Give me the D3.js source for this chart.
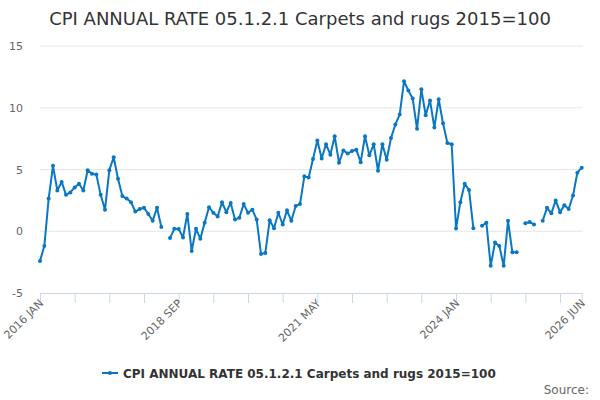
<!DOCTYPE html>
<html><head><meta charset="utf-8">
<script src="https://cdn.jsdelivr.net/npm/d3@7"></script>
<style>body{margin:0;background:#fff}svg{display:block;font-family:"DejaVu Sans",sans-serif}</style>
</head><body><svg id="c" width="600" height="400"></svg>
<script>
const title = "CPI ANNUAL RATE 05.1.2.1 Carpets and rugs 2015=100";
const seriesName = "CPI ANNUAL RATE 05.1.2.1 Carpets and rugs 2015=100";
const monthNames = ["JAN","FEB","MAR","APR","MAY","JUN","JUL","AUG","SEP","OCT","NOV","DEC"];
const startYear = 2016;
const values = [
 -2.4,-1.2,2.65,5.3,3.3,4.0,2.95,3.15,3.55,3.85,3.3,4.95,
 4.65,4.6,2.95,1.75,4.95,6.0,4.25,2.85,2.65,2.35,1.6,1.8,
 1.9,1.4,0.85,1.9,0.35,null,-0.55,0.2,0.18,-0.5,1.4,-1.6,
 0.2,-0.6,0.7,1.95,1.5,1.2,2.35,1.55,2.3,0.95,1.1,2.2,
 1.5,1.75,0.95,-1.85,-1.75,0.9,0.25,1.5,0.55,1.7,0.85,2.05,
 2.2,4.45,4.35,5.85,7.35,5.9,7.05,6.2,7.7,5.55,6.55,6.3,
 6.5,6.6,5.6,7.7,6.15,7.05,4.9,7.05,5.8,7.55,8.65,9.45,
 12.15,11.4,10.75,8.3,11.5,9.4,10.6,8.4,10.7,8.75,7.15,7.05,
 0.22,2.35,3.85,3.35,0.25,null,0.45,0.7,-2.8,-0.9,-1.2,-2.8,
 0.85,-1.7,-1.7,null,0.65,0.75,0.55,null,0.85,1.9,1.45,2.5,
 1.55,2.1,1.8,2.9,4.75,5.15
];
const categories = values.map((v,i)=> (startYear+Math.floor(i/12)) + " " + monthNames[i%12]);
const yTicks = [-5,0,5,10,15];
const tickLabels = ["2016 JAN","2018 SEP","2021 MAY","2024 JAN","2026 JUN"];

(function(){
const svg = d3.select("#c");
const pL = 40, pR = 581.7, pT = 46.1, pB = 293;
const x = d3.scalePoint().domain(categories).range([pL, pR]);
const y = d3.scaleLinear().domain([-5,15]).range([pB, pT]);
const color = "#0a77c2";

svg.append("text").attr("x",300).attr("y",25).attr("text-anchor","middle")
  .attr("font-size",18).attr("fill","#333").text(title);

svg.append("g").selectAll("line").data(yTicks.filter(d=>d!==-5)).join("line")
  .attr("x1",pL).attr("x2",pR+1).attr("y1",d=>y(d)).attr("y2",d=>y(d))
  .attr("stroke","#e6e6e6").attr("stroke-width",1);
svg.append("g").selectAll("text").data(yTicks).join("text")
  .attr("x",23).attr("y",d=>y(d)+4).attr("text-anchor","end")
  .attr("font-size",11).attr("fill","#666").text(d=>d);

const tickIdx = d3.range(0, categories.length, 8).concat([categories.length-1]);
const xAxis = d3.axisBottom(x).tickValues(tickIdx.map(i=>categories[i])).tickSize(10).tickFormat("");
const gx = svg.append("g").attr("transform",`translate(0,${pB})`).call(xAxis);
gx.select(".domain").attr("stroke","#ccd6eb").attr("d",`M${pL},0.5H${pR+1}`);
gx.selectAll(".tick line").attr("stroke","#ccd6eb");
svg.append("g").selectAll("text").data(tickLabels).join("text")
  .attr("transform",d=>`translate(${x(d)+4},${pB+11}) rotate(-45)`)
  .attr("text-anchor","end").attr("font-size",11).attr("fill","#666").text(d=>d);

const pts = values.map((v,i)=>({c:categories[i],v}));
const line = d3.line().defined(d=>d.v!==null).x(d=>x(d.c)).y(d=>y(d.v));
svg.append("path").datum(pts).attr("d",line).attr("fill","none")
  .attr("stroke",color).attr("stroke-width",2).attr("stroke-linejoin","round");
svg.append("g").selectAll("circle").data(pts.filter(d=>d.v!==null)).join("circle")
  .attr("cx",d=>x(d.c)).attr("cy",d=>y(d.v)).attr("r",2).attr("fill",color);

const lg = svg.append("g");
lg.append("line").attr("x1",102).attr("x2",118).attr("y1",373).attr("y2",373).attr("stroke",color).attr("stroke-width",2);
lg.append("circle").attr("cx",110).attr("cy",373).attr("r",2).attr("fill",color);
lg.append("text").attr("x",123).attr("y",377.5).attr("font-size",12).attr("font-weight","bold").attr("fill","#333").text(seriesName);

svg.append("text").attr("x",589).attr("y",394).attr("text-anchor","end").attr("font-size",12).attr("fill","#666").text("Source:");
})();
</script></body></html>
